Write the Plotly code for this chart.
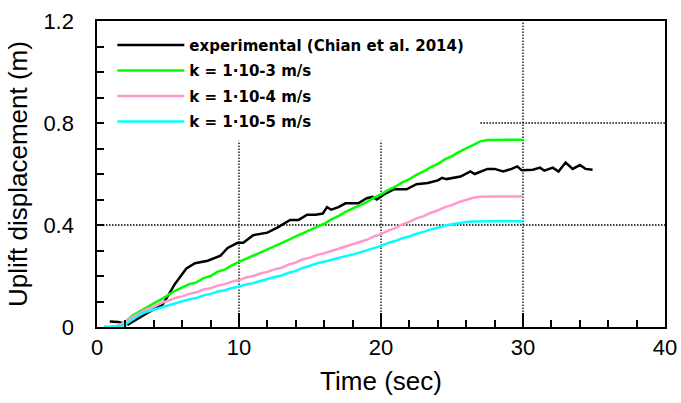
import plotly.graph_objects as go

# experimental (Chian et al. 2014)
t_exp = [0.9, 1.5, 2.2, 2.9, 3.4, 3.9, 4.6, 4.9, 5.2, 5.5, 6.1, 6.3, 6.9, 7.8, 8.7, 9.2, 9.9,
         10.3, 11.0, 11.5, 12.0, 12.7, 13.6, 14.2, 14.8, 15.4, 15.9, 16.2, 16.5, 17.0, 17.5,
         18.4, 19.0, 19.4, 19.7, 20.2, 20.9, 21.8, 22.5, 23.3, 24.0, 24.3, 24.6, 25.6, 26.3,
         26.6, 27.5, 28.0, 28.6, 29.2, 29.6, 29.9, 30.7, 31.2, 31.5, 32.1, 32.5, 33.0, 33.5,
         34.0, 34.4, 34.9]
u_exp = [0.022, 0.02, 0.01, 0.035, 0.05, 0.066, 0.086, 0.113, 0.14, 0.17, 0.215, 0.23, 0.25,
         0.26, 0.28, 0.31, 0.33, 0.33, 0.36, 0.365, 0.37, 0.39, 0.42, 0.42, 0.44, 0.44, 0.445,
         0.47, 0.46, 0.47, 0.485, 0.485, 0.505, 0.51, 0.50, 0.52, 0.54, 0.54, 0.56, 0.565,
         0.575, 0.585, 0.58, 0.59, 0.61, 0.60, 0.62, 0.62, 0.61, 0.62, 0.63, 0.615, 0.617,
         0.625, 0.613, 0.625, 0.61, 0.645, 0.62, 0.635, 0.62, 0.617]

# numerical results
t_num = [0.5, 1, 1.5, 2, 2.5, 3, 3.5, 4, 4.5, 5, 5.5, 6, 6.5, 7, 7.5, 8, 8.5, 9, 9.5, 10,
         10.5, 11, 11.5, 12, 12.5, 13, 13.5, 14, 14.5, 15, 15.5, 16, 16.5, 17, 17.5, 18,
         18.5, 19, 19.5, 20, 20.5, 21, 21.5, 22, 22.5, 23, 23.5, 24, 24.5, 25, 25.5, 26,
         26.5, 27, 27.5, 28, 29, 30]
u_k3 = [0, 0, 0.005, 0.02, 0.045, 0.06, 0.078, 0.09, 0.108, 0.125, 0.142, 0.155, 0.168, 0.175,
        0.192, 0.2, 0.217, 0.225, 0.242, 0.255, 0.267, 0.28, 0.292, 0.305, 0.317, 0.33, 0.342,
        0.355, 0.367, 0.38, 0.393, 0.405, 0.422, 0.435, 0.452, 0.465, 0.478, 0.49, 0.507, 0.52,
        0.537, 0.55, 0.567, 0.58, 0.597, 0.61, 0.627, 0.64, 0.657, 0.67, 0.687, 0.7, 0.716,
        0.728, 0.733, 0.734, 0.734, 0.734]
u_k4 = [0, 0, 0.005, 0.02, 0.04, 0.055, 0.07, 0.08, 0.094, 0.103, 0.114, 0.12, 0.13, 0.136,
        0.147, 0.152, 0.162, 0.168, 0.178, 0.184, 0.194, 0.2, 0.21, 0.216, 0.226, 0.232, 0.245,
        0.253, 0.266, 0.272, 0.283, 0.289, 0.298, 0.305, 0.316, 0.323, 0.335, 0.342, 0.355,
        0.364, 0.378, 0.388, 0.402, 0.412, 0.426, 0.435, 0.448, 0.457, 0.47, 0.478, 0.49,
        0.498, 0.507, 0.511, 0.512, 0.512, 0.512, 0.512]
u_k5 = [0, 0, 0, 0.01, 0.03, 0.048, 0.06, 0.068, 0.079, 0.085, 0.095, 0.1, 0.109, 0.114,
        0.124, 0.13, 0.139, 0.144, 0.153, 0.158, 0.167, 0.172, 0.181, 0.187, 0.196, 0.202,
        0.213, 0.22, 0.232, 0.24, 0.25, 0.256, 0.264, 0.27, 0.278, 0.284, 0.292, 0.299,
        0.31, 0.318, 0.33, 0.337, 0.348, 0.355, 0.366, 0.373, 0.383, 0.389, 0.398, 0.403,
        0.409, 0.412, 0.414, 0.415, 0.415, 0.415, 0.415, 0.415]

names = ["experimental (Chian et al. 2014)", "k = 1\u00b710-3 m/s",
         "k = 1\u00b710-4 m/s", "k = 1\u00b710-5 m/s"]
colors = ["#000000", "#00ff00", "#ff99cc", "#00ffff"]

fig = go.Figure()
fig.add_trace(go.Scatter(x=t_exp, y=u_exp, mode="lines", name=names[0], legendgroup="a",
                         line=dict(color=colors[0], width=2.5)))
for nm, col, u, g in zip(names[1:], colors[1:], [u_k3, u_k4, u_k5], ["b", "c", "d"]):
    fig.add_trace(go.Scatter(x=t_num, y=u, mode="lines", name=nm, legendgroup=g,
                             line=dict(color=col, width=2.5)))

# dotted grid segments (partly hidden behind the legend in the original)
dot = dict(color="black", width=1.3, dash="1.5px,1.5px")
for x0, y0, x1, y1 in [(10, 0, 10, 0.73), (20, 0, 20, 0.73), (30, 0, 30, 1.2),
                       (0, 0.4, 40, 0.4), (27, 0.8, 40, 0.8)]:
    fig.add_shape(type="line", x0=x0, y0=y0, x1=x1, y1=y1, line=dot, layer="below")

font = "Liberation Sans"
fig.update_layout(
    width=681, height=403,
    margin=dict(l=97, r=16, t=21, b=76),
    paper_bgcolor="white", plot_bgcolor="white",
    font=dict(family=font, size=22, color="black"),
    showlegend=True,
    legend=dict(x=0.027, y=0.975, bgcolor="rgba(0,0,0,0)",
                font=dict(size=15, family="DejaVu Sans", weight="bold"), tracegroupgap=3,
                itemwidth=67),
    xaxis=dict(range=[0, 40], dtick=10, showgrid=False, zeroline=False, automargin=False,
               showline=True, linecolor="black", linewidth=2, mirror=True,
               ticks="inside", ticklen=14, tickwidth=2, tickcolor="black",
               minor=dict(dtick=2, ticks="inside", ticklen=7, tickwidth=1.5, tickcolor="black"),
               title=dict(text="Time (sec)", standoff=12)),
    yaxis=dict(range=[0, 1.2], dtick=0.4, showgrid=False, zeroline=False, automargin=False,
               showline=True, linecolor="black", linewidth=2, mirror=True,
               ticks="inside", ticklen=7, tickwidth=1.5, tickcolor="black",
               ticksuffix="\u00a0\u00a0\u2009",
               minor=dict(dtick=0.1, ticks="inside", ticklen=7, tickwidth=1.5, tickcolor="black"),
               title=dict(text="Uplift displacement (m)", standoff=8)),
)

# drop the default page margin so the figure sits at the window's corner
fig.write_html("out.html", post_script="document.body.style.margin='0';",
               config=dict(displayModeBar=False))
